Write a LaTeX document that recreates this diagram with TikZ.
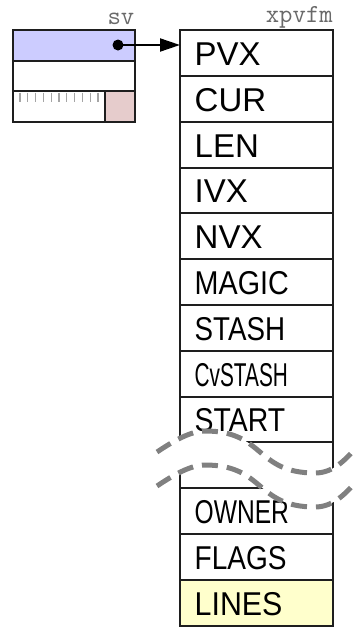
\documentclass[tikz,border=0pt]{standalone}
\usepackage{fontspec}
\usepackage{graphicx}
\setmainfont{Liberation Sans}
\usetikzlibrary{arrows.meta}
\definecolor{svblue}{RGB}{204,204,255}
\definecolor{svpink}{RGB}{230,204,204}
\definecolor{lnyellow}{RGB}{255,255,204}
\definecolor{tickgray}{RGB}{165,165,165}
\definecolor{labgray}{RGB}{105,105,105}
\definecolor{wavegray}{RGB}{128,128,128}
\definecolor{edge}{RGB}{30,30,30}
\tikzset{
  rowbox/.style={draw=edge, line width=2pt, minimum width=153pt, minimum height=46pt, inner sep=0pt, outer sep=0pt},
  svcell/.style={draw=edge, line width=2pt, minimum width=122pt, inner sep=0pt, outer sep=0pt},
  lab/.style={font=\fontsize{33}{34}\selectfont, inner sep=0pt, anchor=base west, xshift=14.5pt, yshift=-12pt},
  toplab/.style={font=\ttfamily\fontsize{26}{26}\selectfont, text=labgray, inner sep=0pt, anchor=base east},
  wave/.style={draw=wavegray, line width=5pt, dash pattern=on 16pt off 9pt}
}
\begin{document}
\begin{tikzpicture}[x=1pt,y=-1pt]
\useasboundingbox (0,0) rectangle (357,629);
% sv structure
\node[svcell, fill=svblue, minimum height=31pt] (s1) at (74,45.5) {};
\node[svcell, minimum height=30pt] (s2) at (74,76) {};
\node[svcell, minimum height=31pt] (s3) at (74,106.5) {};
\node[draw=edge, line width=2pt, fill=svpink, minimum width=30pt, minimum height=31pt, inner sep=0pt] (s3b) at (120,106.5) {};
\foreach \k in {0,...,10} {
  \draw[tickgray, line width=1.2pt] ({20+\k*7.8},92.5) -- ({20+\k*7.8},102);
}
\node[toplab] (svlab) at (134.5,24) {sv};
% xpvfm table
\node[rowbox] (r1) at (256.5,53) {};
\node[rowbox] (r2) at (256.5,99) {};
\node[rowbox] (r3) at (256.5,145) {};
\node[rowbox, minimum height=45pt] (r4) at (256.5,190.5) {};
\node[rowbox] (r5) at (256.5,236) {};
\node[rowbox] (r6) at (256.5,282) {};
\node[rowbox] (r7) at (256.5,328) {};
\node[rowbox] (r8) at (256.5,374) {};
\node[rowbox, minimum height=45pt] (r9) at (256.5,419.5) {};
\node[rowbox] (r10) at (256.5,465) {};
\node[rowbox] (r11) at (256.5,511) {};
\node[rowbox] (r12) at (256.5,557) {};
\node[rowbox, fill=lnyellow] (r13) at (256.5,603) {};
\node[toplab] (xlab) at (333,23) {xpvfm};
\node[lab] (l1) at (r1.west) {PVX};
\node[lab] (l2) at (r2.west) {CUR};
\node[lab] (l3) at (r3.west) {LEN};
\node[lab] (l4) at (r4.west) {IVX};
\node[lab] (l5) at (r5.west) {NVX};
\node[lab] (l6) at (r6.west) {\scalebox{0.87}[1]{MAGIC}};
\node[lab] (l7) at (r7.west) {\scalebox{0.84}[1]{STASH}};
\node[lab] (l8) at (r8.west) {\scalebox{0.63}[1]{CvSTASH}};
\node[lab] (l9) at (r9.west) {\scalebox{0.86}[1]{START}};
\node[lab] (l11) at (r11.west) {\scalebox{0.745}[1]{OWNER}};
\node[lab] (l12) at (r12.west) {\scalebox{0.85}[1]{FLAGS}};
\node[lab] (l13) at (r13.west) {\scalebox{0.92}[1]{LINES}};
% pointer
\node[circle, fill=black, minimum size=11pt, inner sep=0pt] (dot) at (118,45) {};
\draw[line width=2pt, -{Triangle[length=20pt,width=13pt]}] (dot.center) -- (dot.center -| r1.west);
% break
\begin{scope}
  \clip (157,452) .. controls (172,442) and (190,431) .. (205,431)
        .. controls (265,431) and (255,473) .. (315,473)
        .. controls (333,473) and (345,460) .. (356,448)
        -- (360,560) -- (150,560) -- cycle;
  \fill[white] (157,486) .. controls (172,476) and (190,465) .. (205,465)
        .. controls (265,465) and (255,507) .. (315,507)
        .. controls (333,507) and (345,494) .. (356,482)
        -- (360,400) -- (150,400) -- cycle;
\end{scope}
\draw[wave] (157,452) .. controls (172,442) and (190,431) .. (205,431)
        .. controls (265,431) and (255,473) .. (315,473)
        .. controls (333,473) and (345,460) .. (356,448);
\draw[wave] (157,486) .. controls (172,476) and (190,465) .. (205,465)
        .. controls (265,465) and (255,507) .. (315,507)
        .. controls (333,507) and (345,494) .. (356,482);
\end{tikzpicture}
\end{document}
